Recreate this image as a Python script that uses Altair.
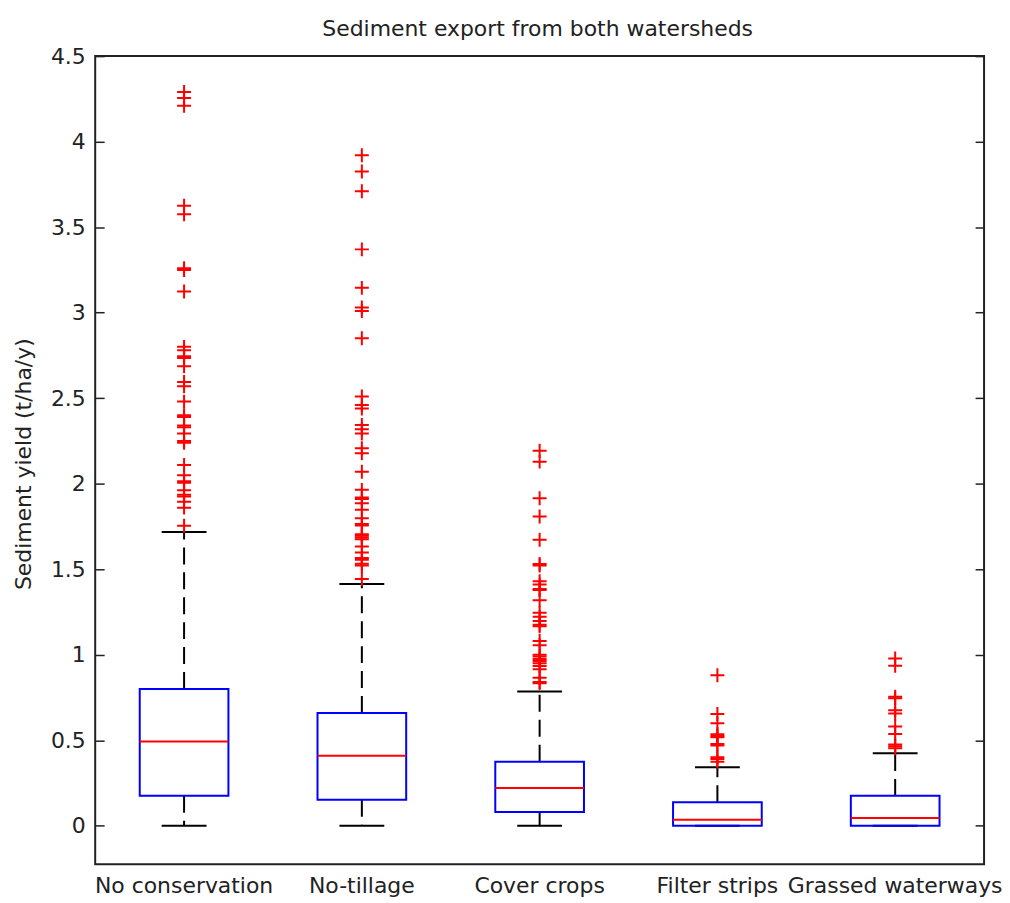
import altair as alt
import pandas as pd

title_text = "Sediment export from both watersheds"
categories = ["No conservation", "No-tillage", "Cover crops", "Filter strips", "Grassed waterways"]
q1 = [0.175, 0.152, 0.080, 0.0, 0.0]
median = [0.493, 0.410, 0.221, 0.035, 0.045]
q3 = [0.800, 0.660, 0.375, 0.138, 0.175]
whisker_low = [0.0, 0.0, 0.0, 0.0, 0.0]
whisker_high = [1.717, 1.414, 0.785, 0.342, 0.424]

out_no_conservation = [4.29, 4.255, 4.21, 3.625, 3.575, 3.26, 3.25, 3.124, 2.80, 2.78, 2.745,
                       2.735, 2.686, 2.595, 2.57, 2.48, 2.40, 2.39, 2.34, 2.33, 2.294, 2.25,
                       2.24, 2.11, 2.05, 2.015, 2.005, 1.962, 1.935, 1.925, 1.895, 1.86, 1.754]
out_no_tillage = [3.92, 3.825, 3.71, 3.37, 3.145, 3.03, 3.01, 2.85, 2.51, 2.46, 2.44, 2.343,
                  2.318, 2.294, 2.207, 2.178, 2.07, 1.964, 1.92, 1.91, 1.886, 1.847, 1.798,
                  1.765, 1.755, 1.705, 1.695, 1.685, 1.675, 1.633, 1.598, 1.565, 1.555,
                  1.532, 1.522, 1.443]
out_cover_crops = [2.193, 2.129, 1.915, 1.808, 1.672, 1.53, 1.522, 1.43, 1.41, 1.385, 1.378,
                   1.319, 1.245, 1.222, 1.197, 1.175, 1.167, 1.08, 1.055, 1.0, 0.99, 0.975,
                   0.963, 0.95, 0.934, 0.915, 0.866, 0.84, 0.834]
out_filter_strips = [0.88, 0.653, 0.60, 0.535, 0.525, 0.517, 0.478, 0.47, 0.40, 0.39, 0.375]
out_grassed = [0.978, 0.935, 0.755, 0.745, 0.676, 0.657, 0.581, 0.536, 0.475, 0.465, 0.453]

y_ticks = [0, 0.5, 1, 1.5, 2, 2.5, 3, 3.5, 4, 4.5]

stats = pd.DataFrame({
    "category": categories, "q1": q1, "median": median, "q3": q3,
    "lo": whisker_low, "hi": whisker_high,
})
outlier_lists = [out_no_conservation, out_no_tillage, out_cover_crops, out_filter_strips, out_grassed]
outliers = pd.DataFrame(
    [(c, v) for c, vals in zip(categories, outlier_lists) for v in vals],
    columns=["category", "value"],
)

FONT = "DejaVu Sans"
TXT = "#222222"
LW = 2
yscale = alt.Scale(domain=[-0.225, 4.5], nice=False, zero=False)
xenc = alt.X("category:N", sort=categories, title=None,
             scale=alt.Scale(paddingInner=0, paddingOuter=0),
             axis=alt.Axis(ticks=False, domain=False, labelAngle=0, labelPadding=11,
                           labelFontSize=22, labelFont=FONT, labelColor=TXT,
                           labelLimit=0, labelOverlap=False))

left_axis = alt.Axis(values=y_ticks, format="~g", orient="left", offset=-9, tickSize=9,
                     tickColor=TXT, tickWidth=1.5, domain=False, grid=False,
                     labelPadding=10,
                     labelFontSize=22, labelFont=FONT, labelColor=TXT,
                     title="Sediment yield (t/ha/y)", titleFont=FONT, titleFontSize=22,
                     titleFontWeight="normal", titleColor=TXT,
                     titleX=-81, titleY=409, titleAngle=-90, titleAlign="center",
                     titleBaseline="middle")
right_axis = alt.Axis(values=y_ticks, orient="right", offset=-9, tickSize=9,
                      tickColor=TXT, tickWidth=1.5, domain=False, grid=False,
                      labels=False, title=None)

base = alt.Chart(stats)

upper_whisker = base.mark_rule(color="black", strokeWidth=LW, strokeDash=[17, 8]).encode(
    x=xenc, y=alt.Y("q3:Q", scale=yscale, axis=left_axis), y2="hi:Q")
lower_whisker = base.mark_rule(color="black", strokeWidth=LW, strokeDash=[17, 8]).encode(
    x=xenc, y=alt.Y("q1:Q", scale=yscale, axis=None), y2="lo:Q")
cap_hi = base.mark_tick(color="black", size=45, thickness=LW, opacity=1).encode(
    x=xenc, y=alt.Y("hi:Q", scale=yscale, axis=None))
cap_lo = base.mark_tick(color="black", size=45, thickness=LW, opacity=1).encode(
    x=xenc, y=alt.Y("lo:Q", scale=yscale, axis=None))
box = base.mark_bar(size=89, fillOpacity=0, stroke="blue", strokeWidth=LW).encode(
    x=xenc, y=alt.Y("q1:Q", scale=yscale, axis=None), y2="q3:Q")
med = base.mark_tick(color="red", size=89, thickness=LW, opacity=1).encode(
    x=xenc, y=alt.Y("median:Q", scale=yscale, axis=None))
pts = alt.Chart(outliers).mark_point(
    shape="M-1,0L1,0M0,-1L0,1", size=196, filled=False, stroke="red", strokeWidth=LW,
    opacity=1).encode(
    x=xenc, y=alt.Y("value:Q", scale=yscale, axis=right_axis))

title_mark = alt.Chart(pd.DataFrame({"t": [title_text]})).mark_text(
    font=FONT, fontSize=22, color=TXT, align="center", baseline="alphabetic"
).encode(text="t:N", x=alt.value(444), y=alt.value(-20))

chart = alt.layer(upper_whisker, lower_whisker, cap_hi, cap_lo, box, med, pts,
                  title_mark).resolve_axis(
    y="independent"
).properties(
    width=892, height=811,
    autosize=alt.AutoSizeParams(type="none"),
    padding={"left": 87.5, "top": 46.7, "right": 18, "bottom": 40},
    background="white",
).configure_view(stroke="#222222", strokeWidth=2)

chart.save("out.html", embed_options={"renderer": "svg", "actions": False})
